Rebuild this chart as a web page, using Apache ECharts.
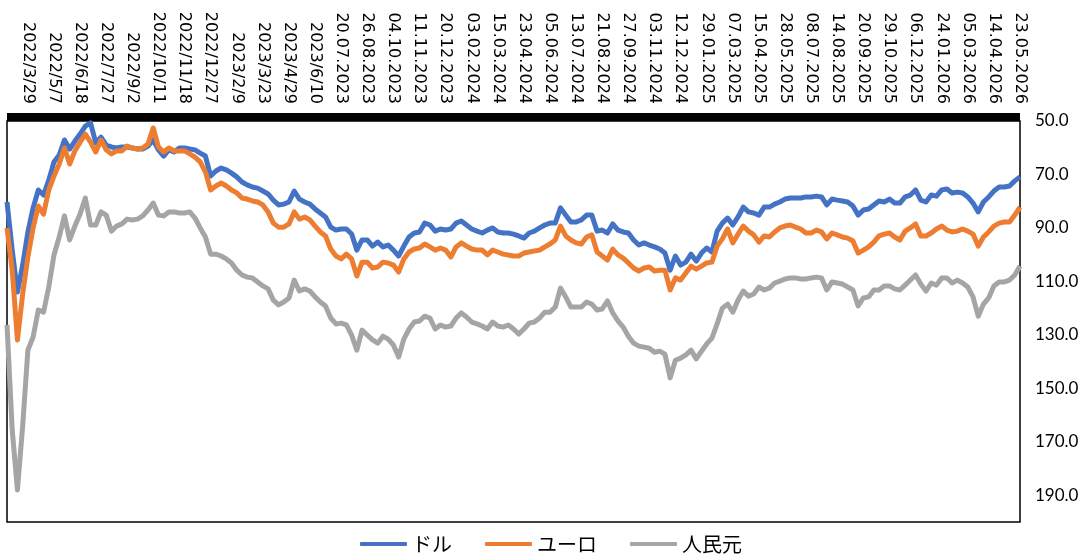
<!DOCTYPE html>
<html>
<head>
<meta charset="utf-8">
<script src="https://cdn.jsdelivr.net/npm/echarts@6/dist/echarts.min.js"></script>
<style>
html,body{margin:0;padding:0;background:#fff;}
#chart{width:1090px;height:559px;}
</style>
</head>
<body>
<div id="chart"></div>
<script>
const tickLabels = ['2022/3/29','2022/5/7','2022/6/18','2022/7/27','2022/9/2','2022/10/11','2022/11/18','2022/12/27','2023/2/9','2023/3/23','2023/4/29','2023/6/10','20.07.2023','26.08.2023','04.10.2023','11.11.2023','20.12.2023','03.02.2024','15.03.2024','23.04.2024','05.06.2024','13.07.2024','21.08.2024','27.09.2024','03.11.2024','12.12.2024','29.01.2025','07.03.2025','15.04.2025','28.05.2025','08.07.2025','14.08.2025','20.09.2025','29.10.2025','06.12.2025','24.01.2026','05.03.2026','14.04.2026','23.05.2026'];

const seriesNames = ['ドル','ユーロ','人民元'];

const usd = [80.3,98.3,114.0,103.9,91.5,82.5,75.8,77.7,72.1,65.3,
62.7,57.1,60.5,57.5,54.9,51.9,50.7,58.2,56.0,59.0,
59.7,60.1,59.7,59.7,60.1,60.5,60.5,59.4,57.1,60.8,
63.1,60.8,61.6,60.1,60.1,60.5,60.8,62.0,63.1,70.6,
68.7,67.6,68.3,69.5,70.9,72.8,73.9,74.7,75.1,76.2,
77.3,79.6,81.4,81.1,80.3,76.2,79.2,80.3,81.1,82.9,
84.4,85.9,89.7,90.8,90.4,90.4,92.3,98.3,94.5,94.5,
96.8,95.3,97.1,96.4,98.3,100.5,96.8,93.4,91.9,91.5,
88.2,88.9,91.2,90.4,90.8,90.4,88.2,87.4,88.9,90.4,
91.2,91.9,90.8,90.0,91.5,91.9,91.9,92.3,93.0,93.8,
91.9,91.2,90.0,88.9,88.2,88.2,82.5,85.2,87.8,87.8,
87.0,85.2,85.2,91.2,90.8,91.9,88.5,90.8,91.5,91.9,
94.5,96.4,95.6,96.4,97.1,97.9,99.4,105.8,100.5,103.9,
102.8,99.8,102.4,99.4,97.5,99.0,91.2,88.2,86.3,88.9,
85.9,82.2,84.0,84.4,85.2,82.2,82.2,81.1,80.3,79.2,
78.8,78.8,78.8,78.4,78.4,78.1,78.4,81.4,79.2,79.6,
79.9,80.3,81.8,85.2,83.3,82.9,81.4,79.9,80.3,79.2,
80.7,80.7,78.4,77.7,75.8,79.6,80.3,77.7,78.1,75.8,
75.4,76.9,76.6,76.9,78.4,80.7,84.0,80.3,78.4,76.2,
74.7,74.7,74.3,72.4,70.9];

const eur = [90.0,105.8,131.9,114.7,100.9,90.0,81.8,84.8,75.8,70.6,
66.1,60.1,66.1,61.2,57.9,54.9,57.9,61.6,57.1,60.8,
62.3,61.2,61.2,59.4,60.1,60.5,60.1,58.6,52.6,59.7,
61.6,60.1,61.2,61.2,61.2,62.3,63.5,65.3,69.1,75.8,
74.3,73.2,74.3,75.8,76.9,78.8,79.2,79.9,80.3,81.4,
84.0,88.2,89.7,89.7,88.5,84.0,86.7,85.9,87.0,89.3,
91.5,93.0,97.9,100.5,101.6,99.8,101.6,108.0,102.8,102.8,
105.0,104.6,102.8,103.1,103.9,106.5,101.6,99.0,97.9,97.5,
96.0,97.1,98.3,97.5,98.3,100.9,97.1,95.6,96.8,97.9,
98.3,98.3,100.1,98.3,99.0,99.8,100.1,100.5,100.5,99.4,
99.0,98.6,98.3,97.1,96.0,94.5,89.3,93.0,94.5,95.6,
96.0,93.4,92.6,99.0,100.5,102.0,97.9,100.1,101.3,103.1,
105.0,106.1,105.0,104.6,106.1,105.8,105.8,113.2,108.7,109.5,
106.9,104.3,105.4,104.3,103.1,102.8,96.8,94.1,90.4,95.6,
92.3,89.3,91.2,92.6,95.3,93.0,93.4,91.5,90.0,89.3,
88.9,89.7,90.4,91.9,91.9,90.8,91.5,94.1,91.9,92.6,
93.4,93.8,94.9,99.4,98.3,97.1,95.3,93.0,92.3,91.9,
93.4,94.5,91.2,90.0,88.5,93.0,93.0,91.9,90.4,89.3,
90.8,91.5,91.2,90.4,91.2,92.3,96.8,93.4,91.5,89.3,
88.2,87.8,87.8,85.2,82.2];

const cny = [126.3,165.6,188.0,164.1,135.7,130.8,120.7,121.5,112.1,100.1,
93.4,85.5,94.5,89.3,84.8,78.8,88.9,88.9,84.0,85.2,
91.2,89.3,88.5,86.7,87.0,86.7,85.5,83.3,80.7,85.2,
85.5,84.0,84.0,84.4,84.4,84.0,86.3,90.0,93.4,99.8,
99.8,100.5,101.6,103.1,105.8,107.6,108.4,108.7,110.2,111.7,
112.8,117.0,118.8,117.7,116.2,109.5,113.6,112.8,113.6,115.8,
117.7,119.2,123.7,125.9,125.6,126.3,130.1,135.7,128.2,130.1,
131.9,133.1,130.5,131.6,133.8,138.3,131.6,127.8,125.2,124.8,
123.0,123.7,127.8,126.3,127.1,126.7,123.7,121.8,123.3,125.2,
125.9,126.7,127.8,125.2,126.7,127.1,126.3,127.8,129.7,127.8,
125.6,125.2,123.7,121.5,121.5,119.6,112.5,115.8,119.6,119.6,
119.6,117.7,118.5,120.7,120.3,117.3,121.8,124.8,127.1,130.5,
133.1,134.2,134.6,135.0,136.5,136.1,137.2,146.1,139.5,138.7,
137.5,135.7,139.0,136.1,133.4,131.2,125.9,120.0,118.5,121.5,
117.0,113.6,115.5,114.7,112.1,113.2,112.5,110.6,109.9,109.1,
108.7,108.7,109.1,109.1,108.7,108.4,108.7,113.2,110.2,110.6,
111.0,112.1,113.2,119.2,116.2,115.8,113.2,113.2,111.7,111.7,
112.8,113.2,111.4,109.5,107.6,111.0,113.6,110.6,111.4,108.7,
108.7,110.6,109.5,110.6,112.1,115.8,123.0,118.5,116.2,111.7,
110.2,110.2,109.5,107.6,104.2];

const yTicks = [50,70,90,110,130,150,170,190];

// category list: one entry per data point, label every 5th point starting at index 4
const labelStart = 4, labelStep = 5;
const categories = usd.map((_, i) =>
  (i >= labelStart && (i - labelStart) % labelStep === 0) ? tickLabels[(i - labelStart) / labelStep] : '');

const colors = ['#4472C4', '#ED7D31', '#A5A5A5'];
const chart = echarts.init(document.getElementById('chart'));
chart.setOption({
  animation: false,
  grid: { left: 7, right: 70, top: 121, bottom: 37, show: true, borderColor: '#000', borderWidth: 1.5, backgroundColor: 'transparent' },
  legend: {
    bottom: 0, left: 355,
    icon: 'roundRect',
    itemWidth: 47, itemHeight: 4, itemGap: 33,
    textStyle: { fontFamily: 'Noto Sans CJK JP', fontSize: 20, color: '#000' },
    data: seriesNames
  },
  xAxis: {
    type: 'category', position: 'top', boundaryGap: false, offset: 4,
    data: categories,
    axisLine: { show: true, lineStyle: { color: '#000', width: 8, cap: 'butt' } },
    axisTick: { show: false },
    axisLabel: {
      rotate: 90, margin: 13, interval: (idx, val) => val !== '',
      fontFamily: 'DejaVu Sans', fontSize: 16, color: '#000'
    },
    splitLine: { show: false }
  },
  yAxis: {
    type: 'value', position: 'right', inverse: true, min: 50, max: 200, interval: 10,
    axisLine: { show: false }, axisTick: { show: false }, splitLine: { show: false },
    axisLabel: {
      margin: 15, fontFamily: 'Lato', fontSize: 17, color: '#000',
      formatter: v => yTicks.includes(v) ? v.toFixed(1) : ''
    }
  },
  series: [usd, eur, cny].map((d, k) => ({
    name: seriesNames[k], type: 'line', data: d, symbol: 'none', showSymbol: false,
    lineStyle: { width: 5, color: colors[k], join: 'round' },
    itemStyle: { color: colors[k] }
  }))
});
</script>
</body>
</html>
